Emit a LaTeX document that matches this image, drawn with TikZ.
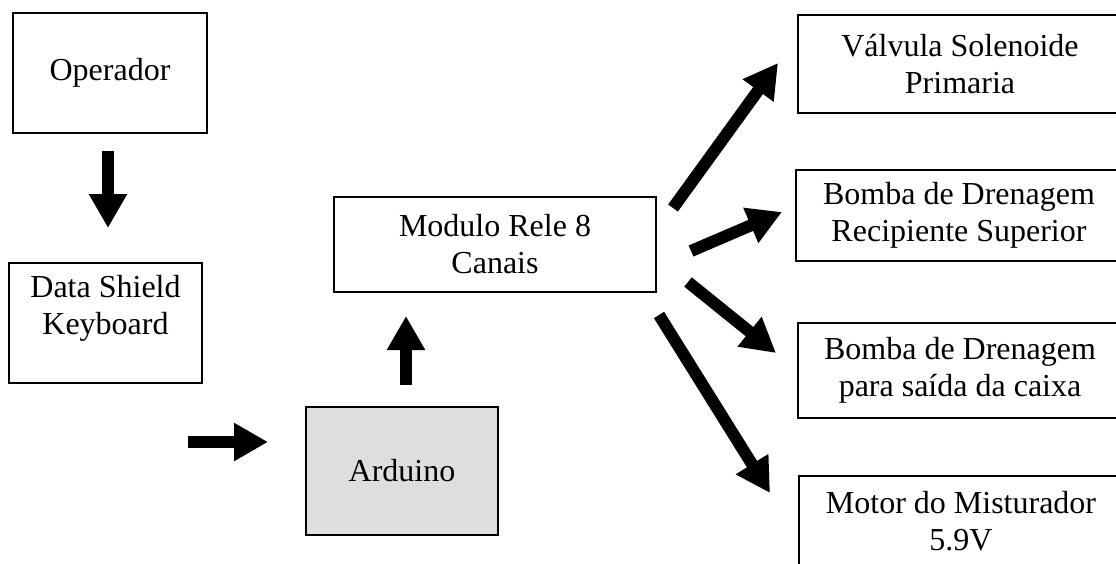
\documentclass[tikz,border=0pt]{standalone}
\usepackage{fontspec}
\setmainfont{Liberation Serif}
\usetikzlibrary{arrows.meta}
\tikzset{
  box/.style={draw, line width=2pt, align=center, inner sep=0pt,
    font=\fontsize{32pt}{37pt}\selectfont},
  blockarrow/.style={line width=12pt, -{Triangle[width=36pt,length=34pt]}}
}
\begin{document}
\begin{tikzpicture}[x=1pt,y=-1pt]
\useasboundingbox (0,0) rectangle (1116,563);
\clip (0,0) rectangle (1116,563);
\node[box, minimum width=194pt, minimum height=120pt] (op) at (110,73) {Operador};
\node[box, minimum width=193pt, minimum height=120pt] (dsk) at (105.5,323) {Data Shield\\Keyboard\\\mbox{}};
\node[box, fill={rgb,255:red,222;green,222;blue,222}, minimum width=192pt, minimum height=128pt] (ard) at (402,471) {Arduino};
\node[box, minimum width=322pt, minimum height=95pt] (rele) at (495,244.5) {Modulo Rele 8\\Canais};
\node[box, minimum width=324pt, minimum height=98pt] (valv) at (960,64) {Válvula Solenoide\\Primaria};
\node[box, minimum width=326pt, minimum height=91pt] (bomb1) at (959,215.5) {Bomba de Drenagem\\Recipiente Superior};
\node[box, minimum width=324pt, minimum height=95pt] (bomb2) at (960,370.5) {Bomba de Drenagem\\para saída da caixa};
\node[box, minimum width=324pt, minimum height=90pt] (motor) at (961,521) {Motor do Misturador\\5.9V};

\coordinate (a1s) at (108,151);  \coordinate (a1e) at (108,228);
\coordinate (a2s) at (188,442);  \coordinate (a2e) at (268,442);
\coordinate (a3s) at (406,385);  \coordinate (a3e) at (406,316);
\coordinate (a4s) at (673,208);  \coordinate (a4e) at (778,63);
\coordinate (a5s) at (691,251);  \coordinate (a5e) at (782,212);
\coordinate (a6s) at (688,282);  \coordinate (a6e) at (776,353);
\coordinate (a7s) at (659,315);  \coordinate (a7e) at (770,493);

\draw[blockarrow] (a1s) -- (a1e);
\draw[blockarrow] (a2s) -- (a2e);
\draw[blockarrow] (a3s) -- (a3e);
\draw[blockarrow] (a4s) -- (a4e);
\draw[blockarrow] (a5s) -- (a5e);
\draw[blockarrow] (a6s) -- (a6e);
\draw[blockarrow] (a7s) -- (a7e);
\end{tikzpicture}
\end{document}
